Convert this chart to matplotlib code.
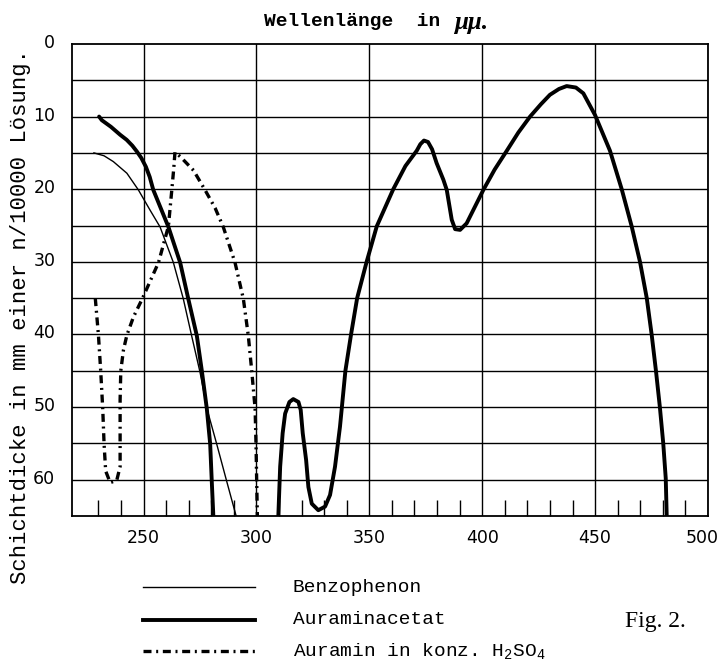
import matplotlib
matplotlib.use("Agg")
import numpy as np
import matplotlib.pyplot as plt
from matplotlib.lines import Line2D
from matplotlib.ticker import FixedLocator
from matplotlib.transforms import ScaledTranslation

# values (wavelength in mµ, layer thickness in mm)
benzophenon_x = [228.0, 232.5, 236.6, 242.6, 247.7, 252.9, 257.3, 263.2, 267.6,
                 271.3, 275.0, 278.3, 282.4, 286.8, 291.0, 291.6]
benzophenon_y = [15.0, 15.4, 16.2, 17.8, 20.1, 22.9, 25.2, 30.1, 35.1,
                 40.2, 45.2, 50.5, 55.1, 60.2, 65.0, 66.0]

auramin_acetat_x = [230.3, 231.5, 235.5, 239.6, 242.5, 245.0, 247.0, 249.0, 251.0,
                    252.7, 254.3, 261.0, 266.2, 269.8, 273.6, 275.8, 278.0, 279.5,
                    280.2, 280.9, 281.0,
                    np.nan,
                    309.6, 309.7, 310.5, 311.6, 312.7, 314.6, 316.3, 318.6, 319.6,
                    320.5, 322.0, 323.0, 324.5, 327.4, 330.4, 332.6, 334.8, 337.0,
                    339.4, 341.9, 344.6, 348.8, 353.3, 360.6, 366.0, 371.0, 372.6,
                    374.2, 376.0, 377.8, 379.8, 382.8, 384.3, 386.5, 388.0, 390.2,
                    393.1, 396.8, 400.5, 405.5, 410.9, 416.0, 421.2, 426.0, 430.0,
                    434.0, 437.4, 441.5, 444.8, 450.0, 456.6, 461.8, 466.2, 469.9,
                    472.9, 475.1, 477.0, 478.7, 480.2, 481.3, 481.7, 481.8]
auramin_acetat_y = [10.0, 10.5, 11.4, 12.5, 13.2, 14.0, 14.8, 15.7, 16.9,
                    18.3, 20.1, 25.2, 30.1, 35.1, 40.2, 45.0, 50.2, 55.1,
                    60.2, 65.0, 66.0,
                    np.nan,
                    66.0, 64.9, 58.2, 53.6, 50.9, 49.3, 48.9, 49.3, 50.4,
                    53.6, 57.3, 61.0, 63.3, 64.2, 63.7, 62.1, 58.2, 52.7,
                    45.0, 40.0, 35.0, 30.0, 25.1, 20.0, 16.8, 14.7, 13.8,
                    13.3, 13.5, 14.5, 16.4, 18.7, 20.1, 24.2, 25.5, 25.6,
                    24.7, 22.4, 20.1, 17.3, 14.7, 12.2, 10.0, 8.3, 7.0,
                    6.2, 5.8, 6.0, 6.8, 9.8, 14.7, 20.0, 25.1, 30.0,
                    35.0, 40.1, 45.1, 50.0, 55.0, 59.8, 64.6, 66.0]

auramin_h2so4_x = [228.6, 230.0, 231.0, 231.9, 232.5, 233.2, 235.2, 238.1, 239.6,
                   239.6, 239.6, 239.9, 241.1, 242.6, 245.5, 249.4, 256.6, 261.0,
                   262.5, 263.4, 263.9, 266.2, 272.1, 277.2, 281.7, 285.3, 290.5,
                   294.2, 296.4, 297.9, 299.4, 299.8, 300.1, 300.4, 300.5]
auramin_h2so4_y = [35.0, 40.1, 45.0, 50.2, 55.1, 58.8, 60.4, 60.1, 58.2,
                   53.6, 49.0, 45.0, 42.1, 40.1, 37.6, 35.1, 30.1, 25.1,
                   20.1, 17.0, 14.9, 15.5, 17.4, 20.1, 22.6, 25.2, 30.1,
                   35.1, 40.2, 45.0, 50.2, 55.1, 60.2, 65.0, 66.0]

x_major = [250, 300, 350, 400, 450, 500]
x_minor = [230, 240, 260, 270, 280, 290, 310, 320, 330, 340, 360, 370, 380, 390,
           410, 420, 430, 440, 460, 470, 480, 490]
y_labels = [0, 10, 20, 30, 40, 50, 60]

legend_labels = ["Benzophenon", "Auraminacetat", "Auramin in konz. H$_2$SO$_4$"]

plt.rcParams["mathtext.fontset"] = "custom"
plt.rcParams["mathtext.rm"] = "Liberation Mono"
plt.rcParams["mathtext.it"] = "Liberation Mono:italic"
plt.rcParams["mathtext.default"] = "rm"

mono = "Liberation Mono"
dashdot = (2.4, 1.4, 0.6, 1.4)

fig = plt.figure(figsize=(7.21, 6.63), dpi=100)
ax = fig.add_axes([0.0999, 0.2217, 0.882, 0.712])

ax.plot(benzophenon_x, benzophenon_y, color="black", lw=1.0)
ax.plot(auramin_acetat_x, auramin_acetat_y, color="black", lw=2.8,
        solid_capstyle="round", solid_joinstyle="round")
ax.plot(auramin_h2so4_x, auramin_h2so4_y, color="black", lw=2.4, dashes=dashdot)

ax.set_xlim(218.3, 500)
ax.set_ylim(65, 0)

# grid: vertical every 50, horizontal every 5
for xv in x_major:
    ax.axvline(xv, color="black", lw=1.0, zorder=0)
for yv in np.arange(5, 65, 5):
    ax.axhline(yv, color="black", lw=1.0, zorder=0)

ax.xaxis.set_major_locator(FixedLocator(x_major))
ax.xaxis.set_minor_locator(FixedLocator(x_minor))
ax.yaxis.set_major_locator(FixedLocator(y_labels))
ax.tick_params(axis="x", which="major", length=0, pad=9, labelsize=12.5)
ax.tick_params(axis="x", which="minor", direction="in", length=11.5, width=1.0,
               bottom=True, top=False)
ax.tick_params(axis="y", which="major", length=0, pad=12, labelsize=12.5)

# small nudges like in the typed original
up = ScaledTranslation(0, 3 / 100, fig.dpi_scale_trans)
for lab in ax.get_yticklabels():
    lab.set_transform(lab.get_transform() + up)
last = ax.get_xticklabels()[-1]
last.set_transform(last.get_transform() + ScaledTranslation(-6 / 100, 0, fig.dpi_scale_trans))

for sp in ax.spines.values():
    sp.set_linewidth(1.3)

# title and y label
fig.text(452 / 721, 1 - 22 / 663, "Wellenlänge  in ", fontsize=14, family=mono,
         weight="bold", ha="right", va="center")
fig.text(454 / 721, 1 - 22 / 663, "μμ.", fontsize=18, family="Liberation Serif",
         style="italic", weight="bold", ha="left", va="center")
fig.text(0.028, 0.522, "Schichtdicke in mm einer n/10000 Lösung.", fontsize=16,
         family=mono, rotation=90, ha="center", va="center")

# legend below the chart
rows_y = [1 - 587 / 663, 1 - 620 / 663, 1 - 651 / 663]
styles = [dict(lw=1.0), dict(lw=2.8), dict(lw=2.4, dashes=dashdot)]
for ry, st, lab in zip(rows_y, styles, legend_labels):
    fig.add_artist(Line2D([143 / 721, 255 / 721], [ry, ry], color="black",
                          transform=fig.transFigure, **st))
    fig.text(293 / 721, ry, lab, fontsize=14, family=mono, ha="left", va="center")

fig.text(625 / 721, 1 - 621 / 663, "Fig. 2.", fontsize=17,
         family="Liberation Serif", ha="left", va="center")

fig.savefig("out.png", dpi=100)
